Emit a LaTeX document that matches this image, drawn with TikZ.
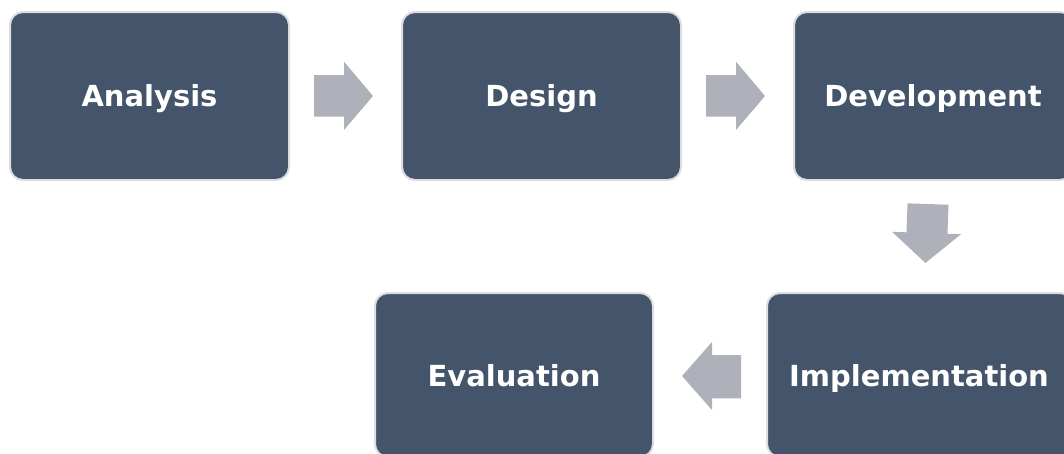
\documentclass[tikz,border=0pt]{standalone}
\usepackage{fontspec}
\setmainfont{DejaVu Sans}
\definecolor{boxfill}{HTML}{44546A}
\definecolor{boxline}{HTML}{DEDEDE}
\definecolor{arrowfill}{HTML}{AEB1B9}
\tikzset{
  stage/.style={rounded corners=13pt, fill=boxfill, draw=boxline, line width=2pt},
  stagetext/.style={anchor=base, text=white, font=\fontsize{29}{33}\selectfont\bfseries, inner sep=0pt},
  blockarrow/.style={fill=arrowfill}
}
\begin{document}
\begin{tikzpicture}[x=1pt,y=-1pt]
\useasboundingbox (0,0) rectangle (1064,453);
\clip (0,0) rectangle (1064,453);
% boxes
\draw[stage] (10,12) rectangle (289,180);
\draw[stage] (402,12) rectangle (681,180);
\draw[stage] (794,12) rectangle (1073,180);
\draw[stage] (375,293) rectangle (653,457);
\draw[stage] (767,293) rectangle (1073,457);
% labels
\node[stagetext] (analysis) at (149.5,106.7) {Analysis};
\node[stagetext] (design) at (541.5,106.7) {Design};
\node[stagetext] (development) at (933,106.7) {Development};
\node[stagetext] (evaluation) at (514,386) {Evaluation};
\node[stagetext] (implementation) at (919,386) {Implementation};
% block arrows
\fill[blockarrow] (314,75) -- (344,75) -- (344,61.7) -- (373,96) -- (344,130) -- (344,116.7) -- (314,116.7) -- cycle;
\fill[blockarrow] (706,75) -- (736,75) -- (736,61.7) -- (765,96) -- (736,130) -- (736,116.7) -- (706,116.7) -- cycle;
\begin{scope}[rotate around={-2:(926.5,233)}]
\fill[blockarrow] (906.5,204) -- (947.5,204) -- (947.5,233) -- (961,233) -- (926.5,263) -- (892,233) -- (906.5,233) -- cycle;
\end{scope}
\fill[blockarrow] (741,355) -- (712,355) -- (712,342) -- (682,376) -- (712,410) -- (712,398.3) -- (741,398.3) -- cycle;
\end{tikzpicture}
\end{document}
